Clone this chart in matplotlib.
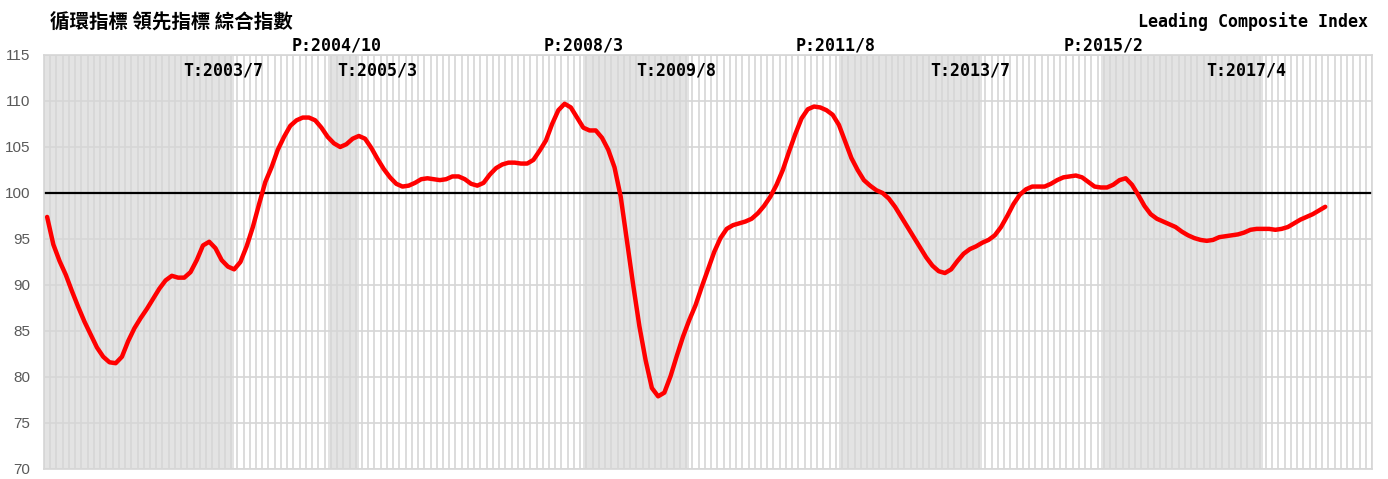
import matplotlib
matplotlib.use("Agg")
import matplotlib.pyplot as plt
import numpy as np

# monthly leading composite index, 2001/1 onwards
start_year, start_month = 2001, 1
n_months = 213  # category slots on the axis (2001/1 .. 2018/9)
leading = [
    97.4, 94.4, 92.6, 91.1, 89.3, 87.6, 86.0, 84.6, 83.2, 82.2,
    81.6, 81.5, 82.2, 83.9, 85.3, 86.4, 87.4, 88.5, 89.6, 90.5,
    91.0, 90.8, 90.8, 91.4, 92.7, 94.3, 94.7, 94.0, 92.7, 92.0,
    91.7, 92.5, 94.2, 96.3, 98.8, 101.2, 102.8, 104.7, 106.1, 107.3,
    107.9, 108.2, 108.2, 107.9, 107.1, 106.1, 105.4, 105.0, 105.3, 105.9,
    106.2, 105.9, 104.9, 103.7, 102.6, 101.7, 101.0, 100.7, 100.8, 101.1,
    101.5, 101.6, 101.5, 101.4, 101.5, 101.8, 101.8, 101.5, 101.0, 100.8,
    101.1, 102.0, 102.7, 103.1, 103.3, 103.3, 103.2, 103.2, 103.6, 104.6,
    105.7, 107.5, 109.0, 109.7, 109.3, 108.2, 107.1, 106.8, 106.8, 106.0,
    104.7, 102.8, 99.6, 94.8, 90.0, 85.5, 81.8, 78.8, 77.9, 78.3,
    80.1, 82.3, 84.4, 86.2, 87.8, 89.8, 91.7, 93.6, 95.1, 96.1,
    96.5, 96.7, 96.9, 97.2, 97.8, 98.6, 99.6, 100.9, 102.5, 104.5,
    106.4, 108.1, 109.1, 109.4, 109.3, 109.0, 108.5, 107.4, 105.6, 103.8,
    102.5, 101.4, 100.8, 100.3, 100.0, 99.4, 98.5, 97.4, 96.3, 95.2,
    94.1, 93.0, 92.1, 91.5, 91.3, 91.7, 92.6, 93.4, 93.9, 94.2,
    94.6, 94.9, 95.4, 96.3, 97.5, 98.8, 99.8, 100.4, 100.7, 100.7,
    100.7, 101.0, 101.4, 101.7, 101.8, 101.9, 101.7, 101.2, 100.7, 100.6,
    100.6, 100.9, 101.4, 101.6, 100.9, 99.8, 98.6, 97.7, 97.2, 96.9,
    96.6, 96.3, 95.8, 95.4, 95.1, 94.9, 94.8, 94.9, 95.2, 95.3,
    95.4, 95.5, 95.7, 96.0, 96.1, 96.1, 96.1, 96.0, 96.1, 96.3,
    96.7, 97.1, 97.4, 97.7, 98.1, 98.5,
]

peaks = ["2004/10", "2008/3", "2011/8", "2015/2"]
troughs = ["2003/7", "2005/3", "2009/8", "2013/7", "2017/4"]
peak_shift = [1.5, 0, -0.5, 0.5]
trough_shift = [-1.8, 3.0, -2.1, -2.0, -2.7]


def idx(s):
    y, m = s.split("/")
    return (int(y) - start_year) * 12 + int(m) - start_month


mono = "DejaVu Sans Mono"
fig = plt.figure(figsize=(13.88, 4.79), dpi=100)
ax = fig.add_axes([44 / 1388, 10 / 479, 1328 / 1388, 414 / 479])

# contraction shading: start of chart to first trough, then each peak to the next trough
spans = [(-0.5, idx(troughs[0]))] + [(idx(p), idx(t)) for p, t in zip(peaks, troughs[1:])]
for a, b in spans:
    ax.axvspan(a, b, color="#e3e3e3", lw=0, zorder=0)

for xb in np.arange(-0.5, n_months, 1.0):
    ax.axvline(xb, color="#d6d6d6", lw=1.2, zorder=1)
for yv in range(70, 116, 5):
    ax.axhline(yv, color="#d6d6d6", lw=1.2, zorder=1)

ax.axhline(100, color="black", lw=1.6, zorder=2)
x = np.arange(len(leading))
ax.plot(x, leading, color="#ff0000", lw=3.2, solid_capstyle="round", zorder=3)

ax.set_xlim(-0.5, n_months - 0.5)
ax.set_ylim(70, 115)
ax.set_xticks([])
ax.set_yticks(range(70, 116, 5))
ax.tick_params(axis="y", length=0, pad=10, labelsize=11, labelcolor="#595959")
for lab in ax.get_yticklabels():
    lab.set_fontfamily("Liberation Sans")
for sp in ax.spines.values():
    sp.set_color("#d6d6d6")
    sp.set_linewidth(1.2)

for p, dx in zip(peaks, peak_shift):
    ax.text(idx(p) + dx, 116.0, "P:" + p, ha="center", va="center",
            family=mono, weight="bold", fontsize=12, clip_on=False)
for t, dx in zip(troughs, trough_shift):
    ax.text(idx(t) + dx, 113.3, "T:" + t, ha="center", va="center",
            family=mono, weight="bold", fontsize=12, zorder=4)

fig.text(50 / 1388, 1 - 22 / 479, "循環指標 領先指標 綜合指數", ha="left", va="center",
         family=["Noto Sans CJK TC", "DejaVu Sans"], weight="bold", fontsize=14)
fig.text(1368 / 1388, 1 - 22 / 479, "Leading Composite Index", ha="right", va="center",
         family=mono, weight="bold", fontsize=12)

fig.savefig("out.png", dpi=100)
